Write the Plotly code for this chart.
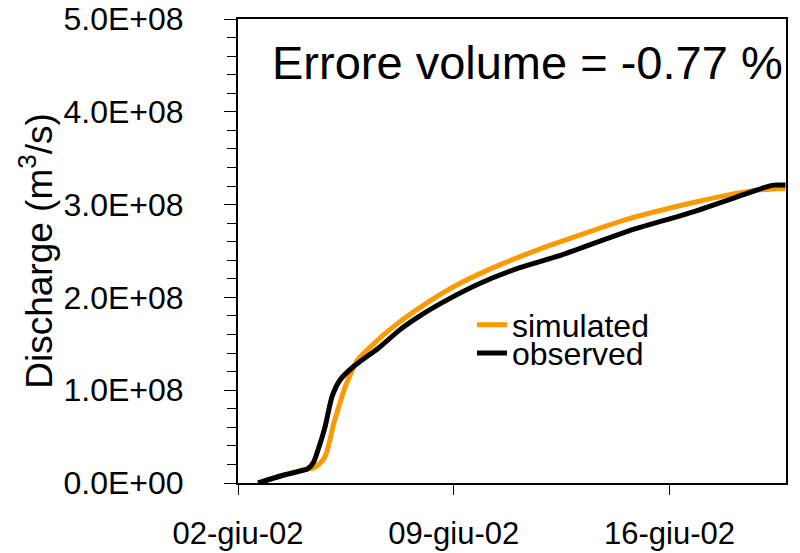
import pandas as pd
import plotly.graph_objects as go

# ---- data ----
start_date = "2002-06-02"

obs_days = [0.65, 1.49, 2.27, 2.46, 2.59, 2.82, 3.05, 3.31, 3.73, 4.54, 5.25,
            5.90, 6.55, 7.84, 9.14, 10.43, 12.61, 14.74, 17.14, 17.37, 17.76]
obs_values = [0.0, 8.6e6, 1.55e7, 2.3e7, 3.5e7, 6.0e7, 9.3e7, 1.11e8, 1.25e8,
              1.45e8, 1.65e8, 1.80e8, 1.93e8, 2.15e8, 2.32e8, 2.45e8, 2.71e8,
              2.92e8, 3.19e8, 3.21e8, 3.21e8]

sim_days = [0.65, 1.49, 2.17, 2.43, 2.62, 2.82, 2.98, 3.11, 3.24, 3.37, 3.53,
            3.89, 4.60, 5.18, 5.90, 6.55, 7.19, 8.49, 9.79, 11.08, 12.61,
            14.74, 16.49, 17.47, 17.76]
sim_values = [0.0, 8.6e6, 1.45e7, 1.6e7, 2.0e7, 2.8e7, 4.6e7, 6.5e7, 7.9e7,
              9.3e7, 1.08e8, 1.33e8, 1.56e8, 1.72e8, 1.89e8, 2.03e8, 2.15e8,
              2.35e8, 2.52e8, 2.67e8, 2.84e8, 3.02e8, 3.14e8, 3.17e8, 3.17e8]

x_tick_dates = ["2002-06-02", "2002-06-09", "2002-06-16"]
x_tick_labels = ["02-giu-02", "09-giu-02", "16-giu-02"]
y_tick_vals = [0, 1e8, 2e8, 3e8, 4e8, 5e8]
y_tick_labels = ["0.0E+00", "1.0E+08", "2.0E+08", "3.0E+08", "4.0E+08", "5.0E+08"]
x_range = ["2002-06-02 00:00", "2002-06-19 18:40"]

annotation_text = "Errore volume = -0.77 %"

t0 = pd.Timestamp(start_date)
obs_x = [t0 + pd.Timedelta(days=d) for d in obs_days]
sim_x = [t0 + pd.Timedelta(days=d) for d in sim_days]

FONT = "Liberation Sans, Arial, sans-serif"

fig = go.Figure()
fig.add_trace(go.Scatter(x=sim_x, y=sim_values, mode="lines", name="simulated",
                         line=dict(color="#FF9900", width=5, shape="spline", smoothing=0.6),
                         legend="legend"))
fig.add_trace(go.Scatter(x=obs_x, y=obs_values, mode="lines", name="observed",
                         line=dict(color="#000000", width=5, shape="spline", smoothing=0.6),
                         legend="legend2"))

legend_common = dict(font=dict(family=FONT, size=32, color="black"),
                     bgcolor="rgba(0,0,0,0)", borderwidth=0,
                     xanchor="left", yanchor="middle", itemwidth=30)

fig.update_layout(
    width=800, height=553,
    margin=dict(l=238, r=14, t=19, b=70, autoexpand=False),
    paper_bgcolor="white", plot_bgcolor="white",
    font=dict(family=FONT, color="black"),
    showlegend=True,
    legend=dict(x=0.427, y=0.3405, **legend_common),
    legend2=dict(x=0.427, y=0.280, **legend_common),
    annotations=[dict(text=annotation_text, xref="paper", yref="paper",
                      x=0.058, y=0.907, xanchor="left", yanchor="middle",
                      showarrow=False, font=dict(family=FONT, size=47, color="black"))],
)

fig.update_xaxes(
    type="date", range=x_range, automargin=False,
    tickvals=x_tick_dates, ticktext=x_tick_labels,
    ticks="outside", ticklen=10, tickwidth=1, tickcolor="black",
    showline=True, linecolor="black", linewidth=2, mirror=True,
    showgrid=False, zeroline=False,
    tickfont=dict(family=FONT, size=31, color="black"),
    ticklabelstandoff=12,
)
fig.update_yaxes(
    range=[0, 5e8], automargin=False,
    tickvals=y_tick_vals, ticktext=y_tick_labels,
    ticks="outside", ticklen=12, tickwidth=1, tickcolor="black",
    minor=dict(dtick=2e7, ticks="outside", ticklen=9, tickwidth=1, tickcolor="black"),
    showline=True, linecolor="black", linewidth=2, mirror=True,
    showgrid=False, zeroline=False,
    tickfont=dict(family=FONT, size=32, color="black"),
    ticklabelstandoff=34,
    title=dict(text="Discharge (m<sup>3</sup>/s)", standoff=0,
               font=dict(family=FONT, size=37, color="black")),
)

fig.write_html("out.html")
